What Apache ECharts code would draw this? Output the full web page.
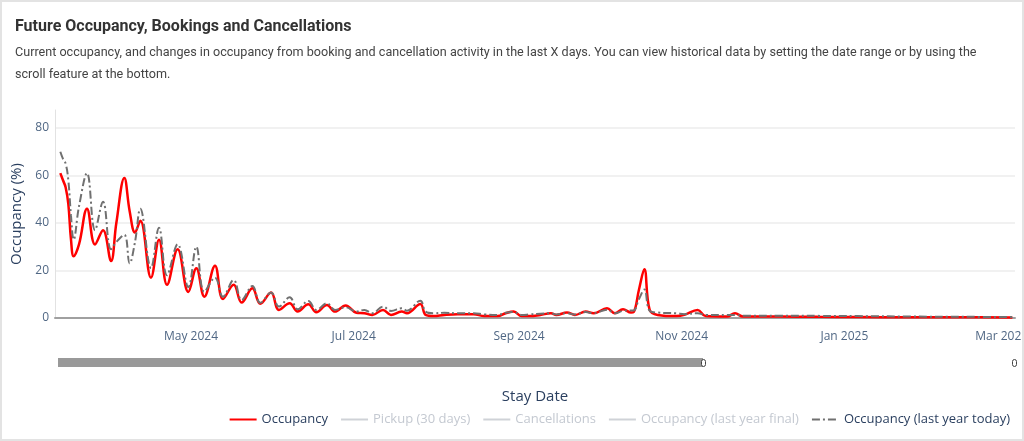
<!DOCTYPE html>
<html><head><meta charset="utf-8">
<script src="https://cdn.jsdelivr.net/npm/echarts@6/dist/echarts.min.js"></script>
<style>
html,body{margin:0;padding:0;background:#fff;}
#frame{position:absolute;left:0;top:0;width:1024px;height:441px;box-sizing:border-box;border:2px solid #e3e3e3;background:#fff;overflow:hidden;}
#chart{position:absolute;left:0;top:0;width:1020px;height:437px;}
</style></head><body>
<div id="frame"><div id="chart"></div></div>
<script>
// ---- data ----
const stayDates = [
 '2024-03-13','2024-03-14','2024-03-15','2024-03-16','2024-03-17','2024-03-18','2024-03-20','2024-03-23','2024-03-26','2024-03-29',
 '2024-04-01','2024-04-03','2024-04-06','2024-04-08','2024-04-10','2024-04-12','2024-04-16','2024-04-19','2024-04-22','2024-04-26','2024-04-30',
 '2024-05-03','2024-05-06','2024-05-10','2024-05-13','2024-05-17','2024-05-20','2024-05-24','2024-05-27','2024-05-31',
 '2024-06-03','2024-06-07','2024-06-10','2024-06-14','2024-06-17','2024-06-21','2024-06-24','2024-06-28',
 '2024-07-02','2024-07-05','2024-07-08','2024-07-12','2024-07-15','2024-07-19','2024-07-21','2024-07-26','2024-07-28','2024-07-31',
 '2024-08-04','2024-08-09','2024-08-15','2024-08-19','2024-08-24','2024-08-27','2024-08-30',
 '2024-09-02','2024-09-05','2024-09-09','2024-09-13','2024-09-15','2024-09-19','2024-09-22','2024-09-26','2024-09-29',
 '2024-10-04','2024-10-07','2024-10-10','2024-10-13','2024-10-14','2024-10-16','2024-10-18','2024-10-20','2024-10-23','2024-10-30',
 '2024-11-02','2024-11-07','2024-11-10','2024-11-18','2024-11-21','2024-11-24',
 '2024-12-08','2024-12-22','2025-01-06','2025-01-26','2025-02-15','2025-03-05'
];
const occupancy = [
 61,58,55,48,33,26,31,46,31,37,
 24,40,59,45,36,41,17,33,14,29,11,
 21,9,22,8,14,6.5,12.5,6,10.7,
 3.4,6.2,2.7,5.8,2.4,5.5,2.7,5.3,
 2.2,2.0,1.3,3.4,1.3,2.7,2.0,5.9,1.3,0.8,
 1.3,1.6,1.6,0.8,0.8,2.0,2.7,
 0.8,0.8,1.3,2.0,1.3,2.3,1.3,2.7,2.0,
 4.1,2.0,3.7,2.3,2.5,12,20.5,3.4,1.3,0.8,
 1.3,3.4,0.8,0.6,2.0,0.6,
 0.6,0.5,0.4,0.3,0.3,0.2
];
const occupancyLastYearToday = [
 70,67,65,58,43,33,47,61,37,49,
 29,32,35,23,32,46,21,38,18,31,13,
 30,11,17,9,16,7.6,13.5,6.4,10.7,
 4.8,8.7,3.7,7.2,3.4,6.2,3.4,4.5,
 2.7,3.4,2.0,4.8,3.0,4.1,3.1,7.3,2.7,2.0,
 2.2,2.0,2.0,1.5,1.3,2.2,2.5,
 1.3,1.5,1.8,2.0,1.5,2.0,1.5,2.5,2.0,
 3.5,2.0,3.0,3.2,3.2,8,12,3.0,2.3,2.0,
 1.6,2.0,1.3,1.3,1.3,1.0,
 1.0,0.9,0.8,0.6,0.5,0.4
];
const pickup30 = [];               // hidden in the reference (legend only)
const cancellations = [];          // hidden in the reference (legend only)
const occupancyLastYearFinal = []; // hidden in the reference (legend only)
const xTickMonths = ['Jan','Mar','May','Jul','Sep','Nov']; // every second month is labelled
const yTickValues = [0,20,40,60,80];
const monthNames = ['Jan','Feb','Mar','Apr','May','Jun','Jul','Aug','Sep','Oct','Nov','Dec'];

const FONT = "'Open Sans', 'Noto Sans', sans-serif";
const TITLE_FONT = "Roboto, 'Noto Sans', sans-serif";
const pairs = vals => stayDates.map((d, i) => [d, vals[i]]);

const chart = echarts.init(document.getElementById('chart'), null, {renderer: 'canvas'});
chart.setOption({
  animation: false,
  backgroundColor: '#fff',
  title: {
    left: 8, top: 12,
    text: 'Future Occupancy, Bookings and Cancellations',
    textStyle: {fontFamily: TITLE_FONT, fontSize: 16, fontWeight: 'bold', color: '#333'},
    subtext: 'Current occupancy, and changes in occupancy from booking and cancellation activity in the last X days. You can view historical data by setting the date range or by using the\nscroll feature at the bottom.',
    subtextStyle: {fontFamily: TITLE_FONT, fontSize: 12.6, lineHeight: 22, color: '#444'},
    itemGap: 7
  },
  grid: {left: 53, right: 7, top: 108, bottom: 121, containLabel: false, outerBoundsMode: 'none'},
  xAxis: {
    type: 'time',
    min: '2024-03-11', max: '2025-03-06',
    splitNumber: 6,
    offset: 5,
    name: 'Stay Date', nameLocation: 'middle', nameGap: 66,
    nameTextStyle: {fontFamily: FONT, fontSize: 15, color: '#2a3f5f'},
    axisLine: {show: true, lineStyle: {color: '#a0a0a0', width: 2}},
    axisTick: {show: false},
    splitLine: {show: false},
    axisLabel: {
      fontFamily: FONT, fontSize: 12, color: '#506784', margin: 8,
      showMinLabel: false, showMaxLabel: false, hideOverlap: false,
      formatter: v => {
        const d = new Date(v);
        const m = monthNames[d.getMonth()];
        return (d.getDate() === 1 && xTickMonths.includes(m)) ? m + ' ' + d.getFullYear() : '';
      }
    }
  },
  yAxis: {
    type: 'value', min: 0, max: 87.6, interval: 20,
    name: 'Occupancy (%)', nameLocation: 'middle', nameRotate: 90, nameGap: 29,
    nameTextStyle: {fontFamily: FONT, fontSize: 15, color: '#2a3f5f'},
    axisLine: {show: true, lineStyle: {color: '#e2e2e2', width: 1}},
    axisTick: {show: false},
    splitLine: {show: true, showMaxLine: false, lineStyle: {color: '#ececec', width: 1.5}},
    axisLabel: {
      fontFamily: FONT, fontSize: 12, color: '#506784', margin: 6, showMaxLabel: false,
      formatter: v => yTickValues.includes(v) ? String(v) : ''
    }
  },
  legend: {
    right: 7, top: 406,
    itemWidth: 27, itemHeight: 12, itemGap: 12,
    itemStyle: {opacity: 0},
    textStyle: {fontFamily: FONT, fontSize: 13, color: '#2a3f5f'},
    inactiveColor: '#c4c9d1',
    selected: {'Pickup (30 days)': false, 'Cancellations': false, 'Occupancy (last year final)': false},
    data: ['Occupancy', 'Pickup (30 days)', 'Cancellations', 'Occupancy (last year final)', 'Occupancy (last year today)']
  },
  graphic: [
    {type: 'rect', left: 56, top: 356, shape: {width: 645, height: 9, r: 0}, style: {fill: '#999999'}, z: 10},
    {type: 'rect', left: 699, top: 357, shape: {width: 4, height: 7, r: 2}, style: {fill: '#fff', stroke: '#444', lineWidth: 1}, z: 11},
    {type: 'rect', left: 1010, top: 357, shape: {width: 4, height: 7, r: 2}, style: {fill: '#fff', stroke: '#444', lineWidth: 1}, z: 11}
  ],
  series: [
    {name: 'Occupancy', type: 'line', data: pairs(occupancy), smooth: 0.4, symbol: 'none',
     lineStyle: {color: '#ff0000', width: 2.5}, itemStyle: {color: '#ff0000'}, z: 2},
    {name: 'Pickup (30 days)', type: 'line', data: pickup30, symbol: 'none',
     lineStyle: {color: '#f28b8b', width: 2, type: 'dotted'}, itemStyle: {color: '#f28b8b'}},
    {name: 'Cancellations', type: 'line', data: cancellations, symbol: 'none',
     lineStyle: {color: '#c8c8c8', width: 3}, itemStyle: {color: '#c8c8c8'}},
    {name: 'Occupancy (last year final)', type: 'line', data: occupancyLastYearFinal, symbol: 'none',
     lineStyle: {color: '#c8c8c8', width: 2, type: 'dotted'}, itemStyle: {color: '#c8c8c8'}},
    {name: 'Occupancy (last year today)', type: 'line', data: pairs(occupancyLastYearToday), smooth: 0.4, symbol: 'none',
     lineStyle: {color: '#707070', width: 2, type: [8, 3, 2, 3]}, itemStyle: {color: '#707070'}, z: 3}
  ]
});
</script>
</body></html>
